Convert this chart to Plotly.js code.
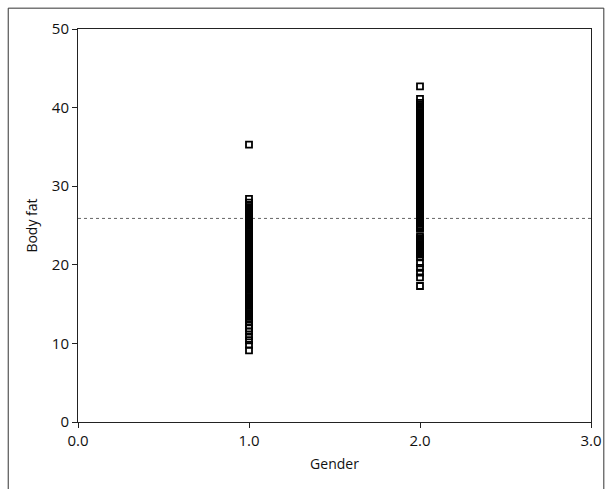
<!DOCTYPE html>
<html>
<head>
<meta charset="utf-8">
<script src="https://cdn.plot.ly/plotly-3.0.1.min.js"></script>
<style>html,body{margin:0;padding:0;background:#fff;}</style>
</head>
<body>
<div id="chart" style="width:607px;height:489px;"></div>
<script>
// Gender codes: 1 = male, 2 = female
const maleGender = 1.0;
const femaleGender = 2.0;
const maleBodyFat = [9.1, 9.8, 10.4, 10.9, 11.5, 11.9, 12.3, 12.8, 13.2, 13.4, 13.5, 13.7, 13.8, 14.0, 14.1, 14.3, 14.5, 14.6, 14.8, 14.9, 15.1, 15.2, 15.3, 15.5, 15.6, 15.8, 15.9, 16.1, 16.2, 16.3, 16.5, 16.6, 16.8, 16.9, 17.0, 17.1, 17.2, 17.4, 17.5, 17.7, 17.8, 17.9, 18.0, 18.1, 18.3, 18.4, 18.6, 18.7, 18.8, 19.0, 19.1, 19.2, 19.4, 19.5, 19.7, 19.8, 19.9, 20.0, 20.1, 20.3, 20.4, 20.6, 20.7, 20.8, 21.0, 21.1, 21.2, 21.4, 21.5, 21.7, 21.8, 21.9, 22.0, 22.1, 22.3, 22.4, 22.6, 22.7, 22.8, 23.0, 23.1, 23.3, 23.4, 23.5, 23.6, 23.7, 23.9, 24.0, 24.2, 24.3, 24.4, 24.6, 24.7, 24.8, 25.0, 25.1, 25.3, 25.4, 25.5, 25.7, 25.8, 26.0, 26.1, 26.2, 26.4, 26.5, 26.6, 26.8, 26.9, 27.1, 27.2, 27.3, 27.5, 27.6, 27.9, 28.4, 35.3];
const femaleBodyFat = [17.3, 18.4, 19.0, 19.6, 20.2, 21.0, 21.3, 21.5, 21.7, 21.9, 22.0, 22.2, 22.3, 22.5, 22.6, 22.8, 22.9, 23.1, 23.2, 23.4, 23.6, 24.6, 24.7, 24.9, 25.0, 25.2, 25.3, 25.5, 25.6, 25.8, 25.9, 26.1, 26.2, 26.3, 26.5, 26.6, 26.8, 26.9, 27.1, 27.2, 27.4, 27.5, 27.7, 27.8, 27.9, 28.1, 28.2, 28.4, 28.5, 28.7, 28.8, 29.0, 29.1, 29.3, 29.4, 29.5, 29.7, 29.8, 30.0, 30.1, 30.3, 30.4, 30.6, 30.7, 30.9, 31.0, 31.1, 31.3, 31.4, 31.6, 31.7, 31.9, 32.0, 32.2, 32.3, 32.5, 32.6, 32.7, 32.9, 33.0, 33.2, 33.3, 33.5, 33.6, 33.8, 33.9, 34.1, 34.2, 34.3, 34.5, 34.6, 34.8, 34.9, 35.1, 35.2, 35.4, 35.5, 35.7, 35.8, 35.9, 36.1, 36.2, 36.4, 36.5, 36.7, 36.8, 37.0, 37.1, 37.3, 37.4, 37.5, 37.7, 37.8, 38.0, 38.1, 38.3, 38.4, 38.6, 38.7, 38.9, 39.0, 39.1, 39.3, 39.4, 39.6, 39.7, 39.9, 40.0, 40.2, 40.4, 40.6, 41.1, 42.7];
const meanBodyFat = 25.9;
const xRange = [0, 3];
const xTickVals = [0, 1, 2, 3];
const xTickText = ["0.0", "1.0", "2.0", "3.0"];
const yTickVals = [0, 10, 20, 30, 40, 50];

const font = "'Open Sans', Lato, sans-serif";
const marker = {symbol: 'square-open', size: 6, color: '#000', line: {width: 1.8, color: '#000'}};

const traces = [
  {x: xRange, y: [meanBodyFat, meanBodyFat], mode: 'lines', line: {color: '#666', width: 1, dash: 'dot'}, hoverinfo: 'skip', showlegend: false},
  {x: maleBodyFat.map(() => maleGender), y: maleBodyFat, mode: 'markers', marker: marker, showlegend: false},
  {x: femaleBodyFat.map(() => femaleGender), y: femaleBodyFat, mode: 'markers', marker: marker, showlegend: false}
];

const layout = {
  width: 607, height: 489,
  margin: {l: 78, r: 16, t: 29, b: 67},
  paper_bgcolor: '#fff', plot_bgcolor: '#fff',
  font: {family: font, size: 14, color: '#111'},
  showlegend: false,
  xaxis: {
    range: xRange, tickvals: xTickVals, ticktext: xTickText,
    showgrid: false, zeroline: false, showline: true, mirror: true,
    linecolor: '#222', linewidth: 1, ticks: 'outside', ticklen: 5, tickcolor: '#222',
    tickfont: {family: font, size: 15, color: '#111'},
    title: {text: 'Gender', font: {family: font, size: 14, color: '#111'}, standoff: 10}
  },
  yaxis: {
    range: [0, 50], tickvals: yTickVals,
    showgrid: false, zeroline: false, showline: true, mirror: true,
    linecolor: '#222', linewidth: 1, ticks: 'outside', ticklen: 5, tickcolor: '#222',
    tickfont: {family: font, size: 15, color: '#111'},
    title: {text: 'Body fat', font: {family: font, size: 14, color: '#111'}, standoff: 10}
  },
  shapes: [
    {type: 'line', xref: 'paper', yref: 'paper', x0: -0.136, x1: -0.136, y0: 1.053, y1: -0.2, line: {color: '#333', width: 1}},
    {type: 'line', xref: 'paper', yref: 'paper', x0: -0.136, x1: 1.025, y0: 1.053, y1: 1.053, line: {color: '#333', width: 1}},
    {type: 'line', xref: 'paper', yref: 'paper', x0: 1.025, x1: 1.025, y0: 1.053, y1: -0.2, line: {color: '#333', width: 1}}
  ]
};

Plotly.newPlot('chart', traces, layout, {displayModeBar: false, staticPlot: true});
</script>
</body>
</html>
